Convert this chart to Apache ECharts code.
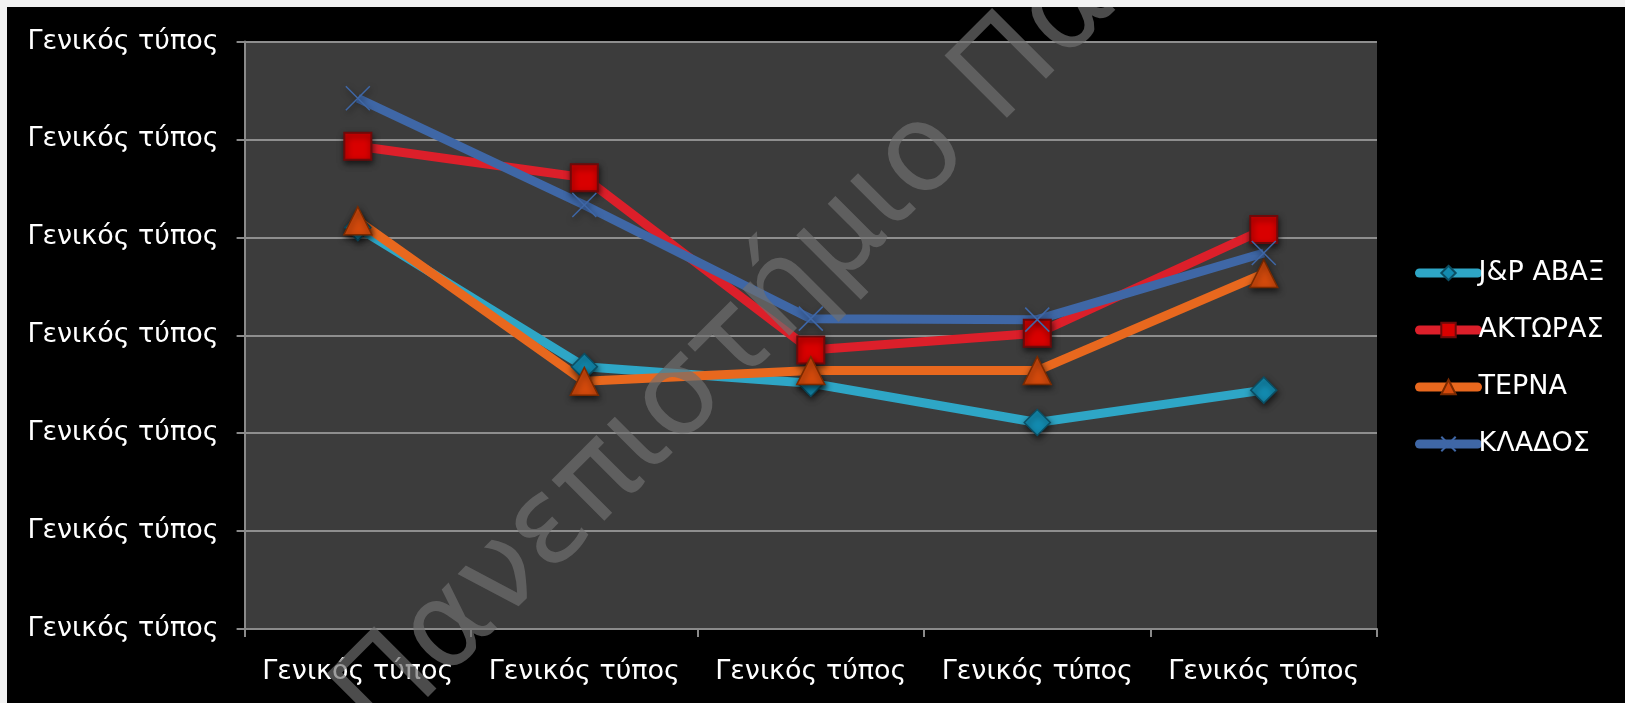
<!DOCTYPE html>
<html>
<head>
<meta charset="utf-8">
<script src="https://cdn.jsdelivr.net/npm/echarts@6/dist/echarts.min.js"></script>
<style>
html,body{margin:0;padding:0;width:1625px;height:703px;background:#f2f2f2;overflow:hidden;}
#chart{position:absolute;left:7px;top:7px;width:1618px;height:696px;background:#000;}
</style>
</head>
<body>
<div id="chart"></div>
<script>
const categories = ['Γενικός τύπος','Γενικός τύπος','Γενικός τύπος','Γενικός τύπος','Γενικός τύπος'];
const yTickLabels = ['Γενικός τύπος','Γενικός τύπος','Γενικός τύπος','Γενικός τύπος','Γενικός τύπος','Γενικός τύπος','Γενικός τύπος'];
const seriesNames = ['J&P ΑΒΑΞ','ΑΚΤΩΡΑΣ','ΤΕΡΝΑ','ΚΛΑΔΟΣ'];
const jpAvax  = [4.10, 2.68, 2.51, 2.11, 2.44];
const aktor   = [4.93, 4.61, 2.85, 3.02, 4.08];
const terna   = [4.17, 2.53, 2.64, 2.64, 3.63];
const klados  = [5.42, 4.33, 3.17, 3.16, 3.84];
const watermark = 'Πανεπιστήμιο Πατρών';

const FONT = 'DejaVu Sans';
const chart = echarts.init(document.getElementById('chart'), null, {renderer:'canvas'});
const shadow = {shadowBlur:6, shadowColor:'rgba(0,0,0,0.6)', shadowOffsetY:3, shadowOffsetX:1};

function mk(name, data, lineColor, symbol, size, fill, border, bw){
  return {
    name, type:'line', data,
    symbol, symbolSize:size,
    lineStyle:{color:lineColor, width:9},
    itemStyle:Object.assign({color:fill, borderColor:border, borderWidth:bw}, shadow),
    emphasis:{disabled:true},
    animation:false
  };
}

chart.setOption({
  backgroundColor:'#000',
  animation:false,
  grid:{left:237.6, top:34.5, right:248, bottom:73.9, show:true, backgroundColor:'#3c3c3c', borderWidth:0},
  xAxis:{
    type:'category', data:categories, boundaryGap:true,
    axisLine:{show:true, lineStyle:{color:'#8a8a8a', width:2}},
    axisTick:{show:true, interval:0, length:8, lineStyle:{color:'#8a8a8a', width:2}},
    axisLabel:{color:'#fff', fontSize:27, fontFamily:FONT, margin:29, interval:0}
  },
  yAxis:{
    type:'value', min:0, max:6, interval:1,
    axisLine:{show:true, lineStyle:{color:'#8a8a8a', width:2}},
    axisTick:{show:true, length:8, lineStyle:{color:'#8a8a8a', width:2}},
    splitLine:{show:true, lineStyle:{color:'#8e8e8e', width:2}},
    axisLabel:{color:'#fff', fontSize:27, fontFamily:FONT, margin:26,
      formatter:(v,i)=>yTickLabels[i]}
  },
  legend:{
    orient:'vertical', left:1408, top:251, padding:0,
    itemWidth:58, itemHeight:18, itemGap:27,
    lineStyle:{width:9, cap:'round'},
    textStyle:{color:'#fff', fontSize:27, fontFamily:FONT, lineHeight:30, padding:[0,0,0,-4]},
    data:seriesNames
  },
  series:[
    mk(seriesNames[0], jpAvax, '#2ea6c6', 'diamond', 26, '#138bb0', '#0b4e63', 1.5),
    mk(seriesNames[1], aktor, '#dc1f2a', 'rect', 27, '#d90000', '#6e0a0a', 2),
    mk(seriesNames[2], terna, '#e8681e', 'triangle', 28, '#d44a0c', '#7a2a00', 1.5),
    mk(seriesNames[3], klados, '#3f67a6', 'path://M0,0L10,10M0,10L10,0', 24, '#3f67a6', '#3f67a6', 1.5)
  ],
  graphic:[{
    type:'text', z:100, x:394, y:758, rotation:Math.PI/4,
    silent:true,
    style:{text:watermark, fill:'rgba(112,112,112,0.68)', font:'normal 121px "'+FONT+'"', textAlign:'left', textVerticalAlign:'bottom'}
  }]
});
</script>
</body>
</html>
